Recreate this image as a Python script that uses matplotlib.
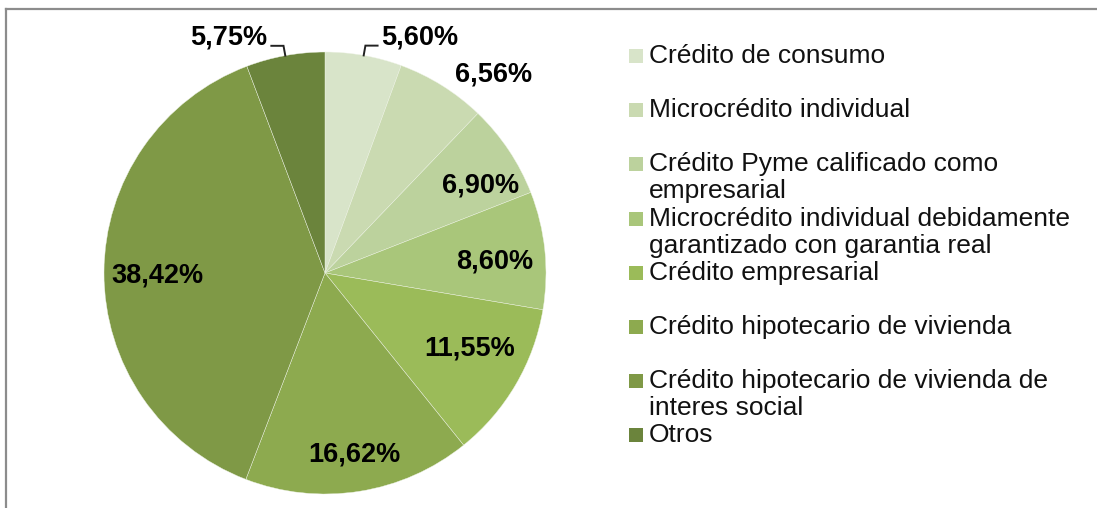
import numpy as np
import matplotlib.pyplot as plt
from matplotlib.lines import Line2D
from matplotlib.patches import Rectangle

plt.rcParams['font.family'] = ['Liberation Sans', 'DejaVu Sans']

# datos de la cartera
categorias = [
    "Crédito de consumo",
    "Microcrédito individual",
    "Crédito Pyme calificado como\nempresarial",
    "Microcrédito individual debidamente\ngarantizado con garantia real",
    "Crédito empresarial",
    "Crédito hipotecario de vivienda",
    "Crédito hipotecario de vivienda de\ninteres social",
    "Otros",
]
porcentajes = [5.60, 6.56, 6.90, 8.60, 11.55, 16.62, 38.42, 5.75]
etiquetas = ["5,60%", "6,56%", "6,90%", "8,60%", "11,55%", "16,62%", "38,42%", "5,75%"]
colores = ["#D8E4C9", "#CADAB1", "#BCD29D", "#A9C67A",
           "#9BBB59", "#8DAA4F", "#7F9946", "#6B843C"]

# posicion de etiquetas (radio y giro en grados)
dist_etq = [1.15, 1.18, 0.81, 0.77, 0.74, 0.83, 0.76, 1.15]
giro_etq = [11.9, 8.3, 4.4, 2.0, -2.7, -0.4, -1.0, -12.0]
con_guia = [True, False, False, False, False, False, False, True]

W, H = 1097, 508
fig = plt.figure(figsize=(W / 100, H / 100), dpi=100)

cx, cy, r = 325, 273, 221
ax = fig.add_axes([(cx - r) / W, (H - cy - r) / H, 2 * r / W, 2 * r / H])
ax.pie(porcentajes, colors=colores, startangle=90, counterclock=False,
       radius=1, wedgeprops=dict(edgecolor='#EEF3E6', linewidth=0.3))
ax.set_xlim(-1, 1)
ax.set_ylim(-1, 1)
ax.set_aspect('equal')
ax.axis('off')

acum = np.cumsum(porcentajes)
medios = (acum - np.array(porcentajes) / 2) / 100 * 360
for i, txt in enumerate(etiquetas):
    th = np.radians(medios[i] + giro_etq[i])
    x, y = dist_etq[i] * np.sin(th), dist_etq[i] * np.cos(th)
    ax.text(x, y, txt, ha='center', va='center', fontsize=19.5,
            fontweight='bold', clip_on=False)
    if con_guia[i]:
        tm = np.radians(medios[i])
        x0, y0 = np.sin(tm), np.cos(tm)
        x1, y1 = 1.045 * np.sin(tm), 1.045 * np.cos(tm)
        lado = 1 if np.sin(tm) > 0 else -1
        ax.plot([x0, x1, x1 + lado * 0.055], [y0, y1, y1], color='#222222',
                lw=1.4, clip_on=False, solid_joinstyle='miter')

# leyenda manual
y_leg = 56
for cat, col in zip(categorias, colores):
    lineas = cat.split("\n")
    fig.patches.append(Rectangle((629 / W, 1 - (y_leg + 7) / H), 14 / W, 14 / H,
                                 transform=fig.transFigure, facecolor=col,
                                 edgecolor='none'))
    for k, ln in enumerate(lineas):
        fig.text(649 / W, 1 - (y_leg + 27 * k) / H, ln, fontsize=19,
                 va='center', ha='left', color='#111111')
    y_leg += 54.2

# marco del grafico
fig.add_artist(Line2D([6 / W, 1], [1 - 9 / H, 1 - 9 / H], color='#8C8C8C',
                      lw=1.6, transform=fig.transFigure))
fig.add_artist(Line2D([6 / W, 6 / W], [1 - 9 / H, 0], color='#8C8C8C',
                      lw=1.6, transform=fig.transFigure))

fig.savefig("out.png", dpi=100, facecolor='white')
